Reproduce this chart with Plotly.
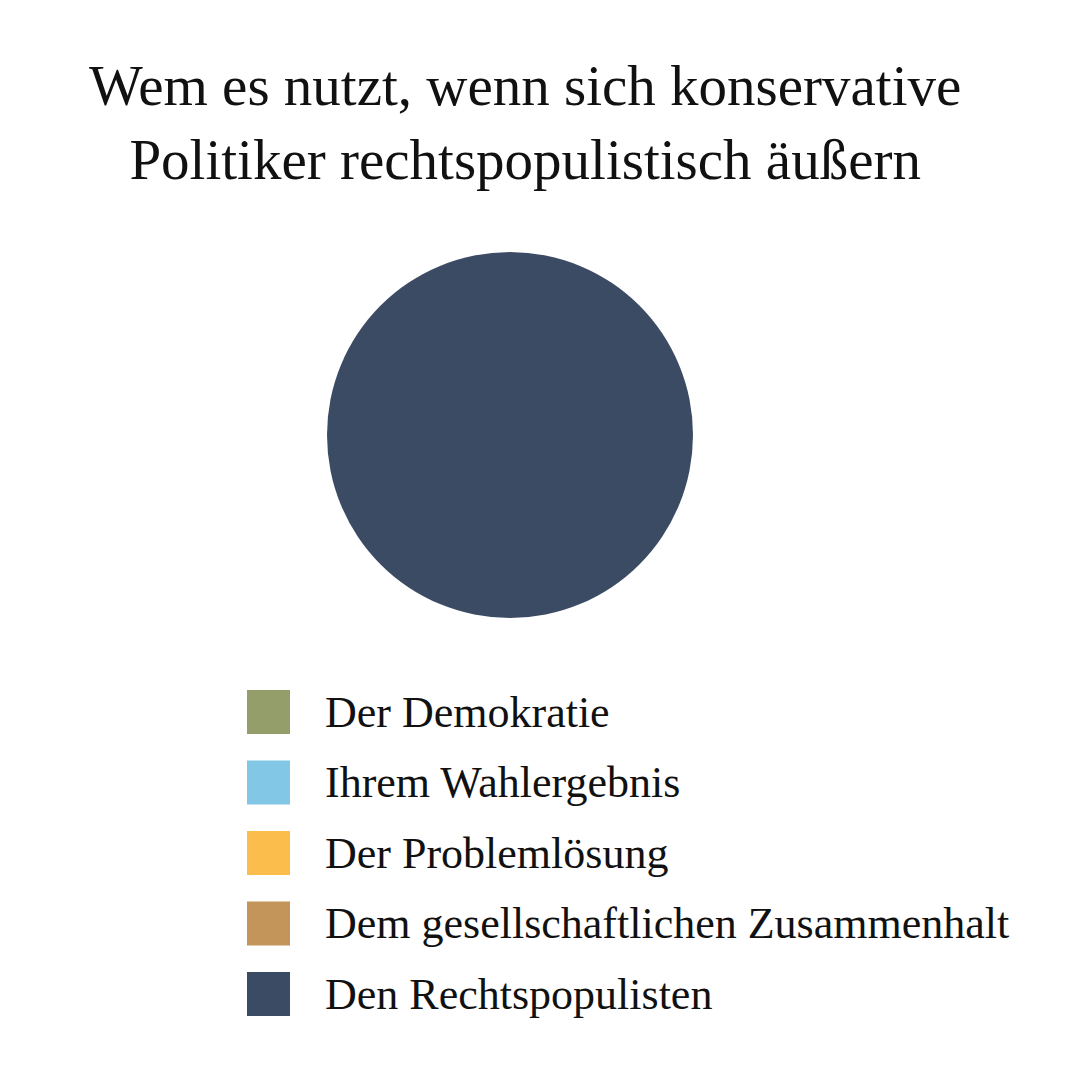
import plotly.graph_objects as go

categories = ["Der Demokratie", "Ihrem Wahlergebnis", "Der Problemlösung",
              "Dem gesellschaftlichen Zusammenhalt", "Den Rechtspopulisten"]
values = [0, 0, 0, 0, 100]
colors = ["#949e6a", "#82c8e6", "#fbbd4c", "#c4955a", "#3c4b64"]
title_lines = ["Wem es nutzt, wenn sich konservative", "Politiker rechtspopulistisch äußern"]

W = H = 1080
FONT = "Liberation Serif, DejaVu Serif, serif"
DX, DY = -8, -8

fig = go.Figure(go.Pie(
    labels=categories, values=values, marker=dict(colors=colors, line=dict(width=0)),
    sort=False, direction="clockwise", rotation=0, textinfo="none", hoverinfo="label+percent",
    showlegend=False,
    domain=dict(x=[(327+DX)/W, (693+DX)/W], y=[1-(618+DY)/H, 1-(252+DY)/H]),
))

ann = [dict(text="<br>".join(title_lines), x=(525+DX)/W, y=1-(52+DY)/H, xref="paper", yref="paper",
            xanchor="center", yanchor="top", showarrow=False, align="center",
            font=dict(family=FONT, size=57, color="#111111"))]
shapes = []
y0 = 712
for i, (c, col) in enumerate(zip(categories, colors)):
    yc = y0 + i * 70.5 + DY
    shapes.append(dict(type="rect", xref="paper", yref="paper",
                       x0=(247+DX)/W, x1=(290+DX)/W, y0=1-(yc+22)/H, y1=1-(yc-22)/H,
                       fillcolor=col, line=dict(width=0)))
    ann.append(dict(text=c, x=(323+DX)/W, y=1-yc/H, xref="paper", yref="paper",
                    xanchor="left", yanchor="middle", showarrow=False,
                    font=dict(family=FONT, size=44, color="#111111")))

fig.update_layout(width=W, height=H, margin=dict(l=0, r=0, t=0, b=0),
                  paper_bgcolor="white", plot_bgcolor="white",
                  annotations=ann, shapes=shapes)
fig.write_html("out.html")
